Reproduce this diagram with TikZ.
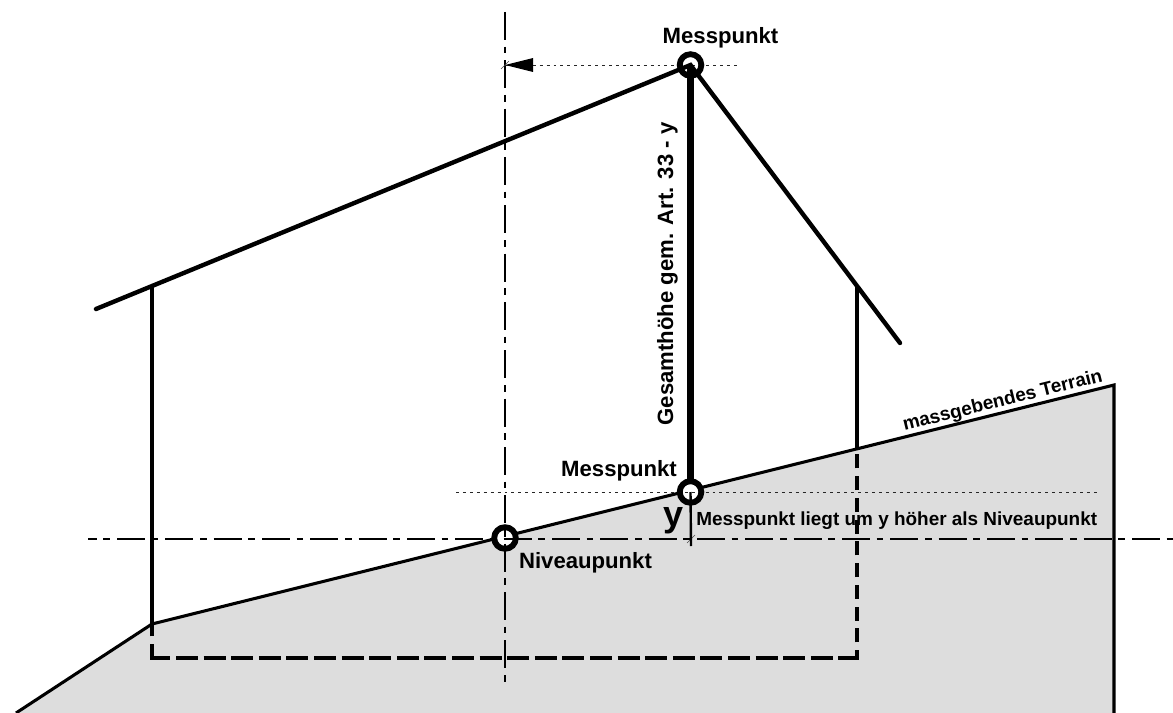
\documentclass[tikz,border=0pt]{standalone}
\usepackage{fontspec}
\setmainfont{Liberation Sans}
\definecolor{terrain}{RGB}{221,221,221}
\tikzset{
  px/.style={x=0.75pt,y=-0.75pt},
  lbl/.style={inner sep=0pt,font=\fontsize{16.6pt}{19pt}\selectfont\bfseries},
  smalllbl/.style={inner sep=0pt,font=\fontsize{14.2pt}{16pt}\selectfont\bfseries},
  outline/.style={line width=2.3pt,line join=miter},
  roof/.style={line width=3.3pt,line cap=round},
  wall/.style={line width=2.3pt},
  hiddenh/.style={line width=2.4pt,dash pattern=on 16.5pt off 4.2pt,dash phase=1.5pt},
  hiddenv/.style={line width=2.4pt,dash pattern=on 10.5pt off 5.8pt},
  axis/.style={line width=1.8pt,dash pattern=on 21pt off 5pt on 5pt off 5.25pt},
  aux/.style={line width=0.7pt,dash pattern=on 2.2pt off 3pt,draw=black!85},
  tick/.style={line width=0.4pt,draw=black!70},
  ring/.style={line width=4.4pt,draw=black}
}
\begin{document}
\begin{tikzpicture}[px]
\useasboundingbox (0,0) rectangle (1173,713);
\coordinate (top) at (690.5,65);
\coordinate (eaveL) at (96,309);
\coordinate (eaveR) at (900,343);
\coordinate (gL) at (16,713);
\coordinate (gK) at (152,624);
\coordinate (gT) at (1114,385);
\coordinate (gB) at (1114,713);
\coordinate (base) at (690.5,492);
\coordinate (baseTop) at (690.5,481);
\coordinate (niv) at (505,538);
\coordinate (wL) at (152,287);
\coordinate (wR) at (857,287);
\coordinate (wRg) at (857,449);
\coordinate (fL) at (152,658);
\coordinate (fR) at (857,658);
\coordinate (fLx) at (150.4,658);
\coordinate (fRx) at (858.6,658);
\fill[terrain] (gL) -- (gK) -- (gT) -- (gB) -- cycle;
\draw[outline] (gL) -- (gK) -- (gT) -- (gB);
\fill[white] (base) circle[radius=9];
\fill[white] (niv) circle[radius=9];
\coordinate (axL) at (88,539);
\coordinate (axR) at (1173,539);
\coordinate (avT) at (505,12);
\coordinate (avB) at (505,688);
\draw[axis,dash phase=14.5pt] (axL) -- (axR);
\draw[axis] (avT) -- (avB);
\coordinate (d1L) at (505,65);
\coordinate (d1R) at (737,65);
\coordinate (d2L) at (456,492);
\coordinate (d2R) at (1098,492);
\draw[aux] (d1L) -- (d1R);
\draw[aux] (d2L) -- (d2R);
\fill (505,65) -- (533,58) -- (533,72) -- cycle;
\coordinate (t1a) at (501,69);
\coordinate (t1b) at (509,61);
\coordinate (t2a) at (687,543);
\coordinate (t2b) at (695,535);
\draw[tick] (t1a) -- (t1b);
\draw[tick] (t2a) -- (t2b);
\draw[wall] (wL) -- (gK);
\draw[wall] (wR) -- (wRg);
\draw[hiddenv] (fL) -- (gK);
\draw[hiddenh] (fLx) -- (fRx);
\draw[hiddenv,dash phase=4.5pt] (fR) -- (wRg);
\draw[roof] (eaveL) -- (top) -- (eaveR);
\draw[line width=4.6pt] (top) -- (baseTop);
\coordinate (yEnd) at (691,546);
\draw[line width=1.8pt] (base) -- (yEnd);
\foreach \p in {top,base,niv}
  \draw[ring] (\p) circle[radius=10.8];
\node[lbl,anchor=base] (m1) at (720.5,44) {Messpunkt};
\node[lbl,anchor=base] (m2) at (619,476) {Messpunkt};
\node[lbl,anchor=base] (n1) at (585.5,568) {Niveaupunkt};
\node[lbl,anchor=base,rotate=90] (g1) at (673,274) {Gesamthöhe gem. Art. 33 - y};
\node[smalllbl,anchor=base west] (m3) at (696,525) {Messpunkt liegt um y höher als Niveaupunkt};
\node[inner sep=0pt,anchor=base,font=\fontsize{27pt}{30pt}\selectfont\bfseries] (y) at (673,526) {y};
\node[inner sep=0pt,anchor=base,rotate=14,font=\fontsize{14.2pt}{16pt}\selectfont\bfseries] (t1) at (1004,406) {massgebendes Terrain};
\end{tikzpicture}
\end{document}
